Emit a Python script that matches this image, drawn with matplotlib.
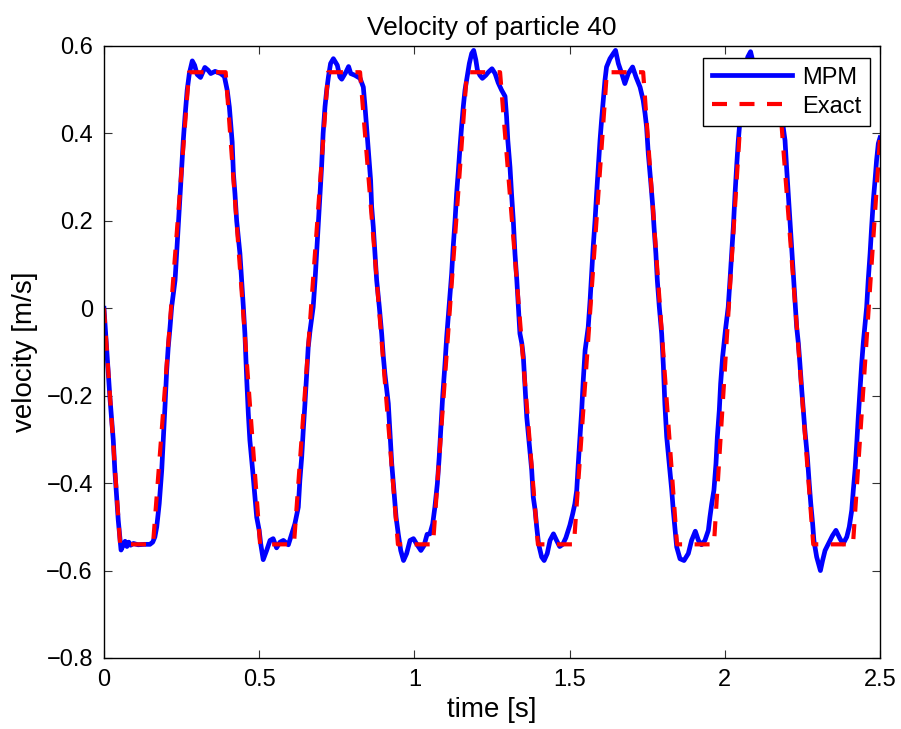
import numpy as np
import matplotlib.pyplot as plt

plt.rcParams['font.family'] = ['Liberation Sans', 'DejaVu Sans']

# exact solution (trapezoidal wave), vertices
exact_t = [0, 0.052, 0.158, 0.274, 0.392, 0.503, 0.612, 0.722, 0.825, 0.947,
           1.06, 1.169, 1.276, 1.398, 1.514, 1.62, 1.737, 1.846, 1.965, 2.06,
           2.17, 2.285, 2.413, 2.5]
exact_v = [0, -0.54, -0.54, 0.54, 0.54, -0.54, -0.54, 0.54, 0.54, -0.54,
           -0.54, 0.54, 0.54, -0.54, -0.54, 0.54, 0.54, -0.54, -0.54, 0.54,
           0.54, -0.54, -0.54, 0.39]

# MPM result
mpm_t = [0.0, 0.009, 0.019, 0.030, 0.035, 0.041, 0.046, 0.051, 0.055, 0.060,
         0.068, 0.074, 0.080, 0.086, 0.095, 0.110, 0.130, 0.148, 0.157, 0.164,
         0.170, 0.178, 0.186, 0.191, 0.197, 0.202, 0.207, 0.2126, 0.218, 0.229,
         0.234, 0.239, 0.245, 0.250, 0.2555, 0.261, 0.268, 0.275, 0.2845, 0.292,
         0.300, 0.311, 0.325, 0.335, 0.344, 0.358, 0.376, 0.388, 0.397, 0.404,
         0.409, 0.413, 0.417, 0.422, 0.4275, 0.438, 0.4435, 0.449, 0.454, 0.460,
         0.465, 0.470, 0.479, 0.4865, 0.492, 0.500, 0.505, 0.513, 0.524, 0.535,
         0.545, 0.556, 0.567, 0.578, 0.594, 0.605, 0.615, 0.626, 0.631, 0.637,
         0.642, 0.6475, 0.653, 0.658, 0.664, 0.674, 0.680, 0.685, 0.690, 0.696,
         0.701, 0.706, 0.712, 0.7175, 0.723, 0.730, 0.739, 0.7517, 0.760, 0.766,
         0.780, 0.788, 0.795, 0.8086, 0.825, 0.8355, 0.841, 0.846, 0.8515, 0.859,
         0.8624, 0.8676, 0.873, 0.8785, 0.887, 0.8946, 0.900, 0.905, 0.916, 0.921,
         0.927, 0.934, 0.941, 0.948, 0.956, 0.965, 0.975, 0.986, 0.997, 1.008,
         1.021, 1.031, 1.041, 1.050, 1.059, 1.066, 1.074, 1.080, 1.085, 1.091,
         1.0986, 1.104, 1.115, 1.120, 1.125, 1.131, 1.136, 1.141, 1.147, 1.152,
         1.1575, 1.163, 1.170, 1.177, 1.1846, 1.191, 1.198, 1.203, 1.211, 1.219,
         1.230, 1.238, 1.250, 1.260, 1.270, 1.281, 1.292, 1.297, 1.301, 1.308,
         1.313, 1.3186, 1.324, 1.330, 1.335, 1.340, 1.346, 1.351, 1.356, 1.362,
         1.370, 1.378, 1.383, 1.389, 1.394, 1.400, 1.410, 1.418, 1.428, 1.437,
         1.448, 1.458, 1.468, 1.478, 1.488, 1.501, 1.510, 1.517, 1.523, 1.528,
         1.5335, 1.539, 1.544, 1.550, 1.560, 1.566, 1.571, 1.576, 1.582, 1.587,
         1.5925, 1.598, 1.603, 1.6086, 1.614, 1.619, 1.630, 1.641, 1.648, 1.657,
         1.668, 1.678, 1.689, 1.703, 1.714, 1.727, 1.737, 1.743, 1.748, 1.7535,
         1.761, 1.768, 1.772, 1.778, 1.7826, 1.789, 1.7966, 1.802, 1.807, 1.8128,
         1.821, 1.829, 1.834, 1.840, 1.845, 1.8557, 1.8686, 1.8825, 1.893, 1.905,
         1.915, 1.925, 1.936, 1.947, 1.952, 1.958, 1.965, 1.9716, 1.976, 1.9823,
         1.9866, 1.993, 2.002, 2.011, 2.0167, 2.022, 2.0275, 2.033, 2.038, 2.0435,
         2.049, 2.056, 2.064, 2.074, 2.083, 2.092, 2.105, 2.118, 2.135, 2.150,
         2.165, 2.178, 2.188, 2.194, 2.199, 2.2045, 2.210, 2.2155, 2.2207, 2.226,
         2.2315, 2.237, 2.242, 2.248, 2.253, 2.258, 2.266, 2.272, 2.277, 2.283,
         2.287, 2.296, 2.308, 2.315, 2.323, 2.3335, 2.347, 2.358, 2.371, 2.381,
         2.393, 2.401, 2.409, 2.414, 2.4195, 2.425, 2.430, 2.4356, 2.441, 2.446,
         2.457, 2.462, 2.468, 2.473, 2.4785, 2.484, 2.489, 2.4946, 2.5]
mpm_v = [0.0, -0.096, -0.203, -0.302, -0.371, -0.432, -0.485, -0.523, -0.553, -0.545,
         -0.533, -0.545, -0.535, -0.542, -0.538, -0.541, -0.540, -0.540, -0.535, -0.523,
         -0.500, -0.447, -0.371, -0.302, -0.218, -0.142, -0.089, -0.045, 0.003, 0.064,
         0.125, 0.186, 0.262, 0.323, 0.384, 0.438, 0.499, 0.537, 0.566, 0.556,
         0.535, 0.528, 0.551, 0.545, 0.537, 0.542, 0.537, 0.530, 0.499, 0.460,
         0.415, 0.380, 0.308, 0.262, 0.200, 0.125, 0.064, 0.003, -0.058, -0.165,
         -0.241, -0.302, -0.371, -0.432, -0.478, -0.508, -0.539, -0.575, -0.554, -0.531,
         -0.527, -0.548, -0.535, -0.531, -0.541, -0.516, -0.493, -0.455, -0.394, -0.340,
         -0.279, -0.218, -0.149, -0.089, -0.050, 0.003, 0.064, 0.125, 0.186, 0.262,
         0.323, 0.400, 0.461, 0.499, 0.529, 0.560, 0.571, 0.556, 0.529, 0.524,
         0.541, 0.553, 0.537, 0.533, 0.526, 0.506, 0.461, 0.415, 0.362, 0.293,
         0.232, 0.186, 0.125, 0.064, 0.003, -0.058, -0.111, -0.150, -0.218, -0.279,
         -0.355, -0.416, -0.478, -0.516, -0.554, -0.577, -0.561, -0.531, -0.527, -0.540,
         -0.554, -0.543, -0.517, -0.516, -0.493, -0.455, -0.401, -0.340, -0.279, -0.203,
         -0.127, -0.066, 0.034, 0.079, 0.140, 0.201, 0.262, 0.308, 0.369, 0.415,
         0.461, 0.499, 0.529, 0.560, 0.583, 0.590, 0.568, 0.545, 0.533, 0.526,
         0.533, 0.540, 0.548, 0.537, 0.516, 0.499, 0.485, 0.438, 0.384, 0.323,
         0.262, 0.201, 0.125, 0.064, 0.003, -0.058, -0.080, -0.111, -0.172, -0.249,
         -0.310, -0.371, -0.432, -0.462, -0.500, -0.539, -0.569, -0.577, -0.561, -0.531,
         -0.516, -0.531, -0.545, -0.540, -0.525, -0.496, -0.470, -0.447, -0.416, -0.355,
         -0.294, -0.233, -0.165, -0.096, -0.043, 0.018, 0.079, 0.140, 0.201, 0.262,
         0.323, 0.384, 0.430, 0.476, 0.522, 0.552, 0.571, 0.583, 0.590, 0.560,
         0.537, 0.514, 0.537, 0.552, 0.529, 0.506, 0.476, 0.446, 0.415, 0.354,
         0.293, 0.232, 0.186, 0.125, 0.064, 0.003, -0.058, -0.130, -0.220, -0.294,
         -0.355, -0.416, -0.462, -0.508, -0.546, -0.573, -0.577, -0.561, -0.531, -0.510,
         -0.531, -0.541, -0.531, -0.508, -0.478, -0.447, -0.416, -0.355, -0.294, -0.233,
         -0.172, -0.111, -0.050, 0.003, 0.064, 0.125, 0.186, 0.262, 0.323, 0.384,
         0.430, 0.490, 0.540, 0.575, 0.587, 0.560, 0.525, 0.540, 0.550, 0.530,
         0.510, 0.480, 0.415, 0.384, 0.323, 0.262, 0.201, 0.140, 0.079, 0.018,
         -0.043, -0.080, -0.127, -0.188, -0.233, -0.279, -0.340, -0.401, -0.447, -0.493,
         -0.531, -0.569, -0.600, -0.577, -0.554, -0.539, -0.520, -0.508, -0.527, -0.539,
         -0.523, -0.500, -0.462, -0.416, -0.371, -0.310, -0.249, -0.188, -0.127, -0.080,
         0.003, 0.064, 0.125, 0.186, 0.247, 0.293, 0.339, 0.377, 0.390]

fig = plt.figure(figsize=(9.01, 7.29), dpi=100)
ax = fig.add_axes([0.1154, 0.0974, 0.8613, 0.8395])

ax.plot(mpm_t, mpm_v, color='blue', linewidth=3.4, label='MPM')
ax.plot(exact_t, exact_v, color='red', linewidth=3.0, dashes=(3.6, 3.0),
        label='Exact')

ax.set_xlim(0, 2.5)
ax.set_ylim(-0.8, 0.6)
ax.set_xticks([0, 0.5, 1, 1.5, 2, 2.5])
ax.set_xticklabels(['0', '0.5', '1', '1.5', '2', '2.5'])
ax.set_yticks(np.arange(-0.8, 0.61, 0.2))
ax.set_yticklabels(['\u22120.8', '\u22120.6', '\u22120.4', '\u22120.2', '0',
                    '0.2', '0.4', '0.6'])
ax.tick_params(direction='in', length=6, width=0.8, top=True, right=True,
               labelsize=17, pad=8, color='#333333')
for s in ax.spines.values():
    s.set_linewidth(1.0)

ax.set_xlabel('time [s]', fontsize=20, labelpad=4)
ax.set_ylabel('velocity [m/s]', fontsize=20, labelpad=6)
ax.set_title('Velocity of particle 40', fontsize=19, pad=8)

leg = ax.legend(loc='upper right', bbox_to_anchor=(0.987, 0.98),
                borderaxespad=0, fontsize=17, fancybox=False,
                handlelength=3.4, handletextpad=0.45, borderpad=0.35,
                labelspacing=0.3)
leg.get_frame().set_edgecolor('black')
leg.get_frame().set_linewidth(1.0)
leg.get_frame().set_alpha(1)

fig.savefig('out.png', dpi=100)
